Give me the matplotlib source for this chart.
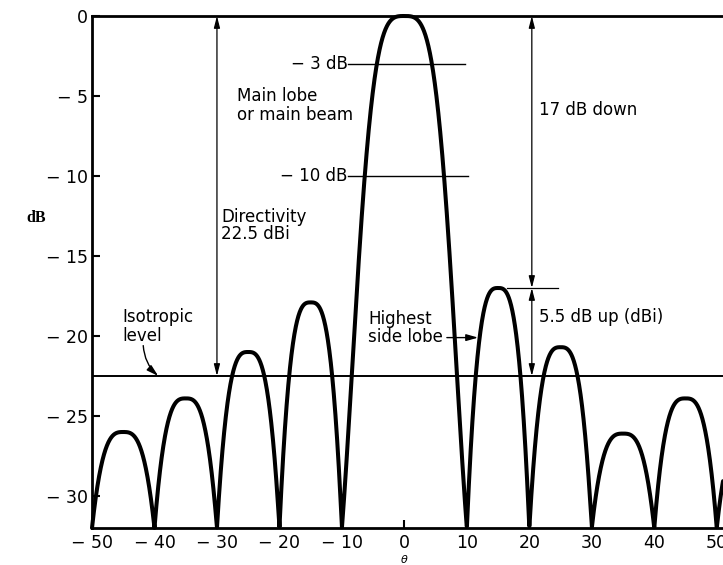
import numpy as np
import matplotlib
matplotlib.use('Agg')
import matplotlib.pyplot as plt

# pattern data
nulls = [-50, -40, -30, -20, -10, 10, 20, 30, 40, 50, 60]
lobe_peaks = [-26.0, -23.9, -21.0, -17.9, 0.0, -17.0, -20.7, -26.1, -23.9, -26.0]
floor_db = -32
isotropic_db = -22.5
xticks = [-50, -40, -30, -20, -10, 0, 10, 20, 30, 40, 50]
yticks = [0, -5, -10, -15, -20, -25, -30]

def lobe_shape(t, main=False):
    # fraction of height above the floor, 1 at lobe centre, 0 at nulls
    t = np.abs(t)
    if main:
        n = 3.2 - 1.6 * t**2
    else:
        n = 3.0
    return 1 - t**n

theta = np.linspace(-50, 51, 3000)
level = np.full_like(theta, floor_db, dtype=float)
for i in range(len(lobe_peaks)):
    a, b = nulls[i], nulls[i + 1]
    c = (a + b) / 2
    hw = (b - a) / 2
    m = (theta >= a) & (theta <= b)
    s = lobe_shape((theta[m] - c) / hw, main=(lobe_peaks[i] == 0.0))
    level[m] = floor_db + (lobe_peaks[i] - floor_db) * s

plt.rcParams['font.family'] = ['DejaVu Sans']
fig = plt.figure(figsize=(7.23, 5.65), dpi=100)
ax = fig.add_axes([92/723, 37/565, 631/723, 512/565])

ax.plot(theta, level, color='k', lw=2.9, solid_capstyle='round', clip_on=False)
ax.axhline(isotropic_db, color='k', lw=1.4)

ax.set_xlim(-50, 51)
ax.set_ylim(floor_db, 0)
ax.spines['right'].set_visible(False)
for sp in ['left', 'top', 'bottom']:
    ax.spines[sp].set_linewidth(2.0)

ax.set_xticks(xticks)
ax.set_xticklabels([('\u2212 %d' % -v) if v < 0 else '%d' % v for v in xticks])
ax.set_yticks(yticks)
ax.set_yticklabels([('\u2212 %d' % -v) if v < 0 else '%d' % v for v in yticks])
ax.tick_params(direction='in', length=6, width=1.5, labelsize=12.5, pad=4)
ax.tick_params(axis='y', pad=3)

ax.text(-59.0, -12.6, 'dB', family='Liberation Serif', fontweight='bold',
        fontsize=11.5, ha='center', va='center', clip_on=False)
ax.text(0, -33.95, r'$\theta$', fontsize=8, ha='center', va='center', clip_on=False)

arw = dict(arrowstyle='<|-|>,head_length=0.7,head_width=0.18', color='k', lw=0.9,
           shrinkA=0, shrinkB=0)
ax.annotate('', xy=(-30, 0), xytext=(-30, isotropic_db), arrowprops=arw)
ax.annotate('', xy=(20.4, 0), xytext=(20.4, -17.0), arrowprops=arw)
ax.annotate('', xy=(20.4, -17.0), xytext=(20.4, isotropic_db), arrowprops=arw)
ax.plot([16.4, 24.6], [-17.0, -17.0], color='k', lw=0.9)

ax.plot([-9.0, 9.7], [-3, -3], color='k', lw=1.0)
ax.plot([-9.0, 10.2], [-10, -10], color='k', lw=1.0)
ax.text(-9.1, -3, '\u2212 3 dB', fontsize=12, ha='right', va='center')
ax.text(-9.1, -10, '\u2212 10 dB', fontsize=12, ha='right', va='center')

ax.text(-26.8, -5.6, 'Main lobe\nor main beam', fontsize=12, ha='left', va='center',
        linespacing=1.1)
ax.text(-29.3, -13.1, 'Directivity\n22.5 dBi', fontsize=12, ha='left', va='center',
        linespacing=0.95)
ax.text(21.5, -5.9, '17 dB down', fontsize=12, ha='left', va='center')
ax.text(21.5, -18.8, '5.5 dB up (dBi)', fontsize=12, ha='left', va='center')
ax.text(-45.2, -19.4, 'Isotropic\nlevel', fontsize=12, ha='left', va='center',
        linespacing=1.05)
ax.text(-5.8, -19.5, 'Highest\nside lobe', fontsize=12, ha='left', va='center',
        linespacing=1.05)

ax.annotate('', xy=(11.8, -20.1), xytext=(6.8, -20.1),
            arrowprops=dict(arrowstyle='-|>,head_length=0.7,head_width=0.2',
                            color='k', lw=1.0, shrinkA=0, shrinkB=0))
ax.annotate('', xy=(-39.4, -22.5), xytext=(-41.8, -20.6),
            arrowprops=dict(arrowstyle='-|>,head_length=0.7,head_width=0.2',
                            color='k', lw=1.0, shrinkA=0, shrinkB=0,
                            connectionstyle='arc3,rad=0.2'))

fig.savefig('out.png', dpi=100)
